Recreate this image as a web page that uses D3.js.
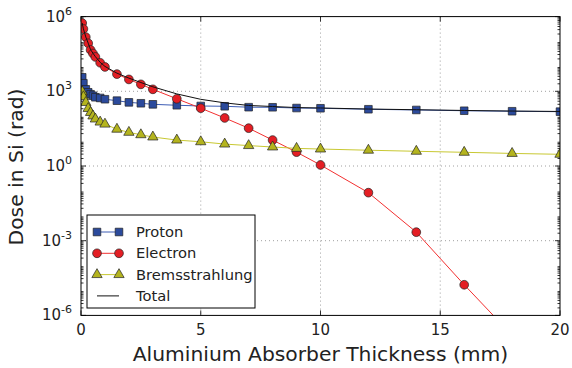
<!DOCTYPE html>
<html>
<head>
<meta charset="utf-8">
<script src="https://cdn.jsdelivr.net/npm/d3@7"></script>
<style>
  body { margin: 0; background: #fff; }
  text { font-family: "DejaVu Sans", sans-serif; fill: #222; }
</style>
</head>
<body>
<div id="chart"></div>
<script>
// aluminium thickness (mm)
const thickness = [0.05, 0.1, 0.2, 0.3, 0.4, 0.5, 0.6, 0.8, 1.0, 1.5, 2, 2.5, 3, 4, 5, 6, 7, 8, 9, 10, 12, 14, 16, 18, 20];

// dose in Si (rad)
const protonDose = [3650, 2100, 1200, 910, 760, 665, 575, 540, 480, 420, 360, 330, 300, 275, 257, 250, 230, 228, 213, 208, 190, 178, 166, 158, 152];
const electronDose = [5.5e5, 3.2e5, 1.5e5, 8.5e4, 4.6e4, 3.3e4, 2.4e4, 1.4e4, 9.5e3, 4.9e3, 3.0e3, 1.9e3, 1.2e3, 500, 210, 85, 33, 11, 3.6, 1.1, 0.085, 0.0022, 1.7e-5, 1.6e-7, 1e-9];
const bremsDose = [960, 605, 355, 204, 141, 102, 77, 58, 48, 30, 22.5, 18, 14.6, 11, 9.4, 7.6, 6.6, 5.8, 5.1, 4.8, 4.3, 3.9, 3.55, 3.2, 2.95];
const totalDose = [5.55e5, 3.23e5, 1.52e5, 8.6e4, 4.69e4, 3.38e4, 2.47e4, 1.46e4, 1.0e4, 5350, 3380, 2250, 1515, 786, 476, 343, 270, 245, 222, 214, 194, 182, 170, 161, 155];

const xTicks = [0, 5, 10, 15, 20];
const yTickExps = [-6, -3, 0, 3, 6];

const margin = {top: 16.6, right: 12, bottom: 52.6, left: 81},
    width = 572 - margin.left - margin.right,
    height = 368 - margin.top - margin.bottom;

const svg = d3.select("#chart")
  .append("svg")
    .attr("width", 572)
    .attr("height", 368)
  .append("g")
    .attr("transform", `translate(${margin.left},${margin.top})`);

const x = d3.scaleLinear().domain([0, 20]).range([0, width]);
const y = d3.scaleLog().domain([1e-6, 1e6]).range([height, 0]);

svg.append("clipPath").attr("id", "clip")
  .append("rect").attr("width", width).attr("height", height);

// dotted grid
svg.append("g").selectAll("line")
  .data(xTicks.slice(1, -1))
  .enter().append("line")
    .attr("x1", d => x(d)).attr("x2", d => x(d))
    .attr("y1", 0).attr("y2", height)
    .attr("stroke", "#888").attr("stroke-width", 0.8)
    .attr("stroke-dasharray", "1,3");
svg.append("g").selectAll("line")
  .data(yTickExps.slice(1, -1))
  .enter().append("line")
    .attr("x1", 0).attr("x2", width)
    .attr("y1", d => y(Math.pow(10, d))).attr("y2", d => y(Math.pow(10, d)))
    .attr("stroke", "#888").attr("stroke-width", 0.8)
    .attr("stroke-dasharray", "1,3");

// minor ticks on log axis (inward, both sides)
const minor = [];
for (let e = -6; e < 6; e++) {
  for (let m = 2; m <= 9; m++) minor.push(m * Math.pow(10, e));
}
const ticks = svg.append("g").attr("stroke", "#000").attr("stroke-width", 0.8);
minor.forEach(v => {
  ticks.append("line").attr("x1", 0).attr("x2", 2.5).attr("y1", y(v)).attr("y2", y(v));
  ticks.append("line").attr("x1", width).attr("x2", width - 2.5).attr("y1", y(v)).attr("y2", y(v));
});
yTickExps.forEach(e => {
  const v = Math.pow(10, e);
  ticks.append("line").attr("x1", 0).attr("x2", 5).attr("y1", y(v)).attr("y2", y(v));
  ticks.append("line").attr("x1", width).attr("x2", width - 5).attr("y1", y(v)).attr("y2", y(v));
});
xTicks.forEach(t => {
  ticks.append("line").attr("x1", x(t)).attr("x2", x(t)).attr("y1", height).attr("y2", height - 5);
  ticks.append("line").attr("x1", x(t)).attr("x2", x(t)).attr("y1", 0).attr("y2", 5);
});

// tick labels
svg.append("g").selectAll("text")
  .data(xTicks)
  .enter().append("text")
    .attr("x", d => x(d)).attr("y", height + 20)
    .attr("text-anchor", "middle")
    .style("font-size", "15px")
    .text(d => d);

const yl = svg.append("g").selectAll("text")
  .data(yTickExps)
  .enter().append("text")
    .attr("x", -9).attr("y", d => y(Math.pow(10, d)) + 5)
    .attr("text-anchor", "end")
    .style("font-size", "15px");
yl.append("tspan").text("10");
yl.append("tspan").attr("dy", -7).style("font-size", "11px").text(d => d);

// axis titles
svg.append("text")
  .attr("x", width / 2).attr("y", height + 46)
  .attr("text-anchor", "middle")
  .style("font-size", "20.3px")
  .text("Aluminium Absorber Thickness (mm)");
svg.append("text")
  .attr("transform", `translate(${-58},${height / 2 + 1}) rotate(-90)`)
  .attr("text-anchor", "middle")
  .style("font-size", "20.3px")
  .text("Dose in Si (rad)");

// series
const series = [
  {name: "Proton", values: protonDose, line: "#3c5cb4", fill: "#2b4a9c", shape: d3.symbolSquare, size: 58},
  {name: "Electron", values: electronDose, line: "#f23030", fill: "#e41e24", shape: d3.symbolCircle, size: 60},
  {name: "Bremsstrahlung", values: bremsDose, line: "#c8c832", fill: "#b4b41e", shape: d3.symbolTriangle, size: 46}
];

const plot = svg.append("g").attr("clip-path", "url(#clip)");
const line = d3.line()
  .x((d, i) => x(thickness[i]))
  .y(d => y(d));

series.forEach(s => {
  plot.append("path")
    .datum(s.values)
    .attr("fill", "none")
    .attr("stroke", s.line)
    .attr("stroke-width", 1)
    .attr("d", line);
});
series.forEach(s => {
  plot.append("g").selectAll("path")
    .data(s.values)
    .enter().append("path")
      .attr("transform", (d, i) => `translate(${x(thickness[i])},${y(d)})`)
      .attr("d", d3.symbol().type(s.shape).size(s.size))
      .attr("fill", s.fill)
      .attr("stroke", "#222")
      .attr("stroke-width", 0.7);
});

plot.append("path")
  .datum(totalDose)
  .attr("fill", "none")
  .attr("stroke", "#111")
  .attr("stroke-width", 1)
  .attr("d", line);

// frame
svg.append("rect")
  .attr("width", width).attr("height", height)
  .attr("fill", "none").attr("stroke", "#000").attr("stroke-width", 1);

// legend
const lg = svg.append("g").attr("transform", `translate(${87 - margin.left},${215 - margin.top})`);
lg.append("rect")
  .attr("width", 168).attr("height", 93)
  .attr("fill", "#fff").attr("stroke", "#000").attr("stroke-width", 1);
const entries = series.concat([{name: "Total", line: "#111"}]);
entries.forEach((s, i) => {
  const yy = 17 + i * 21.3;
  lg.append("line")
    .attr("x1", 10).attr("x2", 32).attr("y1", yy).attr("y2", yy)
    .attr("stroke", s.line).attr("stroke-width", 1);
  if (s.shape) {
    [10, 32].forEach(px => {
      lg.append("path")
        .attr("transform", `translate(${px},${yy})`)
        .attr("d", d3.symbol().type(s.shape).size(s.size))
        .attr("fill", s.fill).attr("stroke", "#222").attr("stroke-width", 0.7);
    });
  }
  lg.append("text")
    .attr("x", 49).attr("y", yy + 5)
    .style("font-size", "14.7px")
    .text(s.name);
});
</script>
</body>
</html>
